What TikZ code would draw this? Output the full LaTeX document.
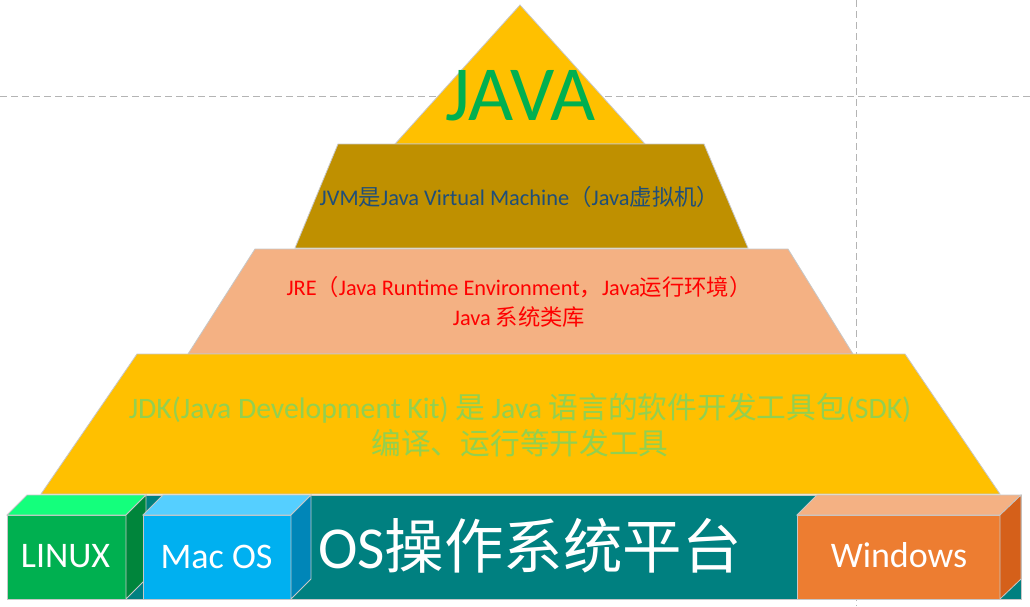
\documentclass[tikz,border=0pt]{standalone}
\usepackage{fontspec}
\setmainfont{Carlito}
\newfontfamily\cjk{Noto Sans CJK SC}
\definecolor{goldc}{HTML}{FFC000}
\definecolor{jvmc}{HTML}{BF9000}
\definecolor{jrec}{HTML}{F4B183}
\definecolor{tealc}{HTML}{008080}
\definecolor{javatxt}{HTML}{00B050}
\definecolor{jvmtxt}{HTML}{1F4E79}
\definecolor{jdktxt}{HTML}{92D050}
\definecolor{linf}{HTML}{00B050}
\definecolor{lint}{HTML}{14FF7C}
\definecolor{linr}{HTML}{00853B}
\definecolor{macf}{HTML}{00B0F0}
\definecolor{mact}{HTML}{55CFFF}
\definecolor{macr}{HTML}{0086B8}
\definecolor{winf}{HTML}{ED7D31}
\definecolor{wint}{HTML}{F4B183}
\definecolor{winr}{HTML}{D5601A}
\definecolor{gridc}{HTML}{B4B4B4}
\begin{document}
\begin{tikzpicture}[x=1pt,y=-1pt,
  edge/.style={draw=black!22, line width=0.8pt},
  gridline/.style={draw=gridc, line width=1pt, dash pattern=on 7pt off 4pt},
  lbl/.style={inner sep=0pt, anchor=center}]
\useasboundingbox (0,0) rectangle (1030,606);
\fill[white] (0,0) rectangle (1030,606);
% guide lines
\draw[gridline] (0,96) -- (1030,96);
\draw[gridline] (856,0) -- (856,606);
% pyramid
\filldraw[fill=goldc, edge] (520,5) -- (645,144) -- (395,144) -- cycle;
\filldraw[fill=jvmc, edge] (338,144) -- (704,144) -- (748,248) -- (295,248) -- cycle;
\filldraw[fill=jrec, edge] (255,249) -- (788,249) -- (853,354) -- (188,354) -- cycle;
\filldraw[fill=goldc, edge] (137,354) -- (905,354) -- (1000,494) -- (41,494) -- cycle;
% OS base
\filldraw[fill=tealc, edge] (126,495) rectangle (1021,599);
% LINUX cube
\filldraw[fill=linf, edge] (7,515) rectangle (126,599);
\filldraw[fill=lint, edge] (7,515) -- (27,495) -- (146,495) -- (126,515) -- cycle;
\filldraw[fill=linr, edge] (126,515) -- (146,495) -- (146,579) -- (126,599) -- cycle;
% Mac OS cube
\filldraw[fill=macf, edge] (143,515) rectangle (291,599);
\filldraw[fill=mact, edge] (143,515) -- (163,495) -- (311,495) -- (291,515) -- cycle;
\filldraw[fill=macr, edge] (291,515) -- (311,495) -- (311,579) -- (291,599) -- cycle;
% Windows cube
\filldraw[fill=winf, edge] (797,515) rectangle (1000,599);
\filldraw[fill=wint, edge] (797,515) -- (817,495) -- (1021,495) -- (1000,515) -- cycle;
\filldraw[fill=winr, edge] (1000,515) -- (1021,495) -- (1021,579) -- (1000,599) -- cycle;
% texts
\node[lbl, text=javatxt, font=\fontsize{78}{78}\selectfont] (java) at (520.5,96) {JAVA};
\node[lbl, text=jvmtxt, font=\fontsize{22.4}{26}\selectfont] (jvm) at (519.5,197)
  {JVM{\cjk 是}Java Virtual Machine{\cjk （}Java{\cjk 虚拟机）}};
\node[lbl, text=red, align=center, font=\fontsize{22.3}{30}\selectfont] (jre) at (519,302)
  {JRE{\cjk （}Java Runtime Environment{\cjk ，}Java{\cjk 运行环境）}\\Java {\cjk 系统类库}};
\node[lbl, text=jdktxt, align=center, font=\fontsize{29.7}{36}\selectfont] (jdk) at (520,425)
  {JDK(Java Development Kit) {\cjk 是} Java {\cjk 语言的软件开发工具包}(SDK)\\{\cjk 编译、运行等开发工具}};
\node[lbl, text=white, font=\fontsize{36}{36}\selectfont] (linux) at (65.5,556.5) {LINUX};
\node[lbl, text=white, font=\fontsize{36}{36}\selectfont] (mac) at (216.5,556.5) {Mac OS};
\node[lbl, text=white, font=\fontsize{36}{36}\selectfont] (win) at (899,555.5) {Windows};
\node[lbl, text=white, font=\fontsize{59.5}{59.5}\selectfont] (os) at (530,546) {OS{\cjk 操作系统平台}};
\end{tikzpicture}
\end{document}
